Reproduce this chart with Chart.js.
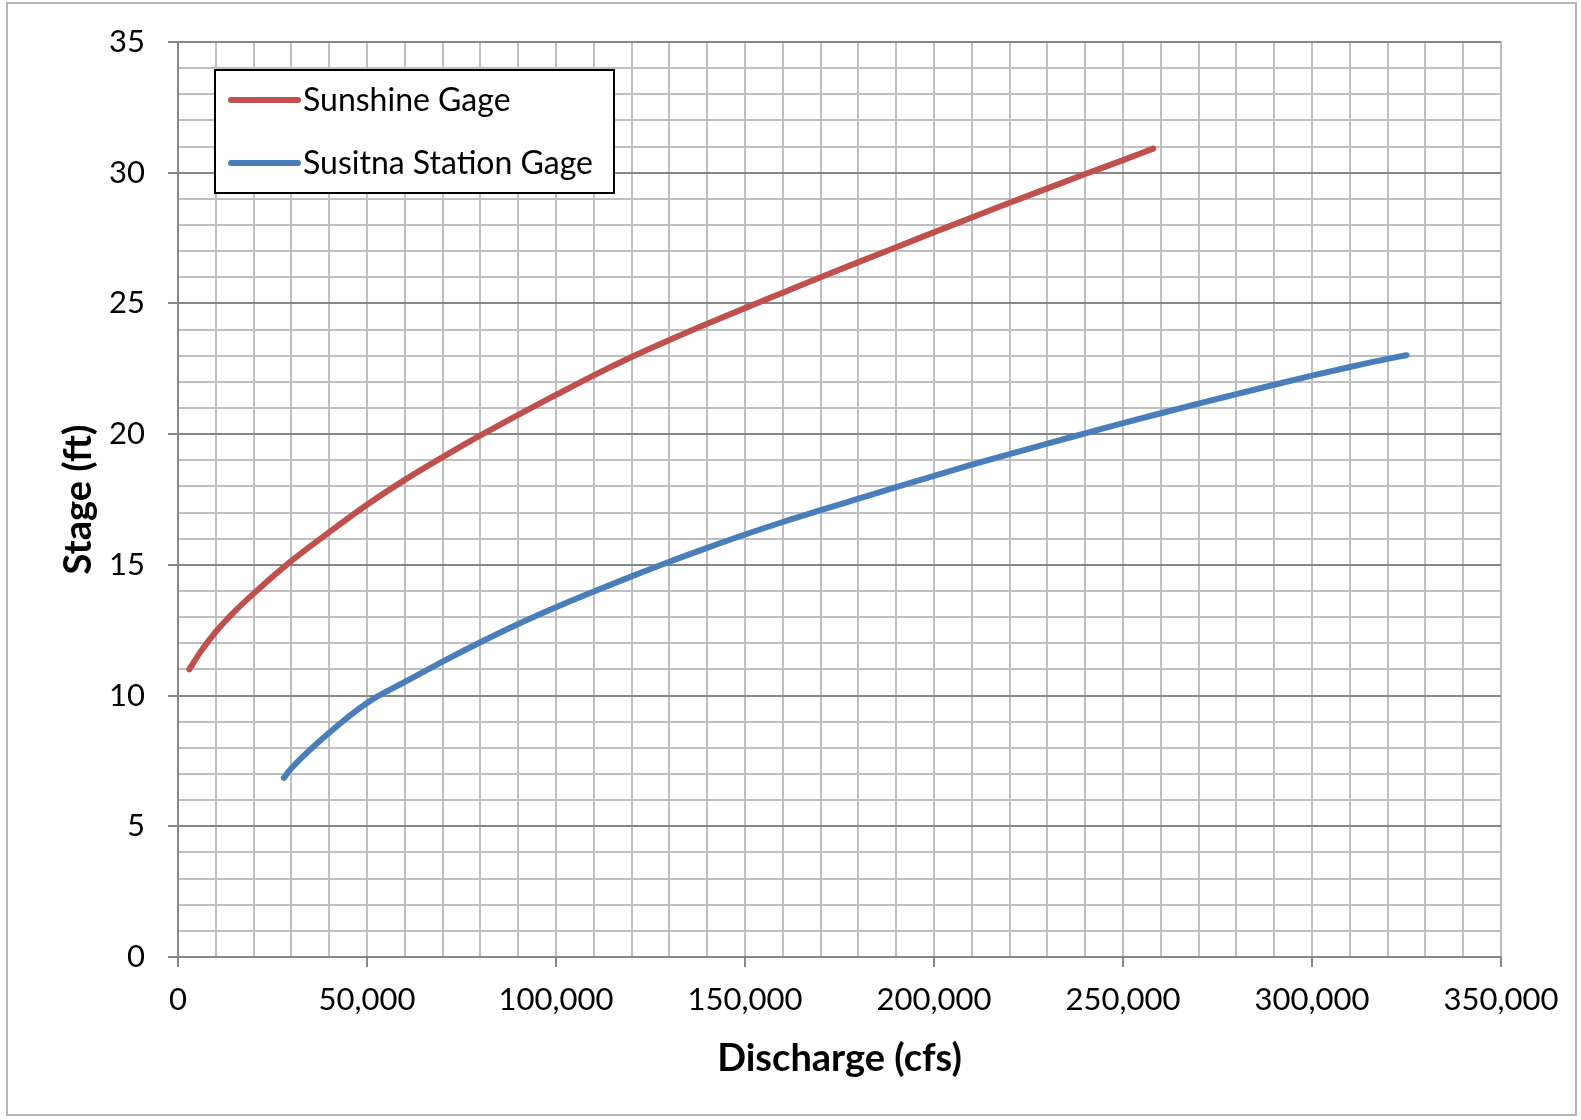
<!DOCTYPE html>
<html>
<head>
<meta charset="utf-8">
<script src="https://cdn.jsdelivr.net/npm/chart.js@4.4.1/dist/chart.umd.min.js"></script>
<style>
  html, body { margin: 0; padding: 0; background: #fff; }
  #wrap { position: relative; width: 1581px; height: 1120px; }
  #frame { position: absolute; left: 6px; top: 2px; width: 1571px; height: 1114px; border: 2px solid #b5b5b5; box-sizing: border-box; pointer-events: none; }
</style>
</head>
<body>
<div id="wrap">
  <canvas id="chart"></canvas>
  <div id="frame"></div>
</div>
<script>
// Sunshine Gage rating curve (discharge cfs, stage ft)
const sunshineQ = [3000, 6000, 10000, 15000, 20000, 30000, 40000, 50000, 60000, 70000, 80000, 90000, 100000,
    110000, 120000, 130000, 140000, 150000, 160000, 170000, 180000, 190000, 200000,
    210000, 220000, 230000, 240000, 250000, 258000];
const sunshineStage = [11.0, 11.68, 12.44, 13.22, 13.9, 15.15, 16.25, 17.3, 18.25, 19.12, 19.95, 20.74, 21.5,
    22.25, 22.95, 23.6, 24.22, 24.82, 25.41, 26.0, 26.58, 27.15, 27.72,
    28.29, 28.85, 29.4, 29.95, 30.48, 30.92];

// Susitna Station Gage rating curve
const susitnaQ = [28000, 30000, 40000, 50000, 60000, 70000, 80000, 90000, 100000, 110000, 120000,
    130000, 140000, 150000, 160000, 170000, 180000, 190000, 200000, 210000, 220000,
    230000, 240000, 250000, 260000, 270000, 280000, 290000, 300000, 310000, 320000, 325000];
const susitnaStage = [6.85, 7.22, 8.58, 9.72, 10.52, 11.3, 12.04, 12.74, 13.38, 13.98, 14.56,
    15.12, 15.65, 16.16, 16.64, 17.09, 17.53, 17.97, 18.4, 18.83, 19.24,
    19.64, 20.03, 20.42, 20.8, 21.17, 21.53, 21.89, 22.24, 22.57, 22.88, 23.02];

const seriesNames = ['Sunshine Gage', 'Susitna Station Gage'];
const xTitle = 'Discharge (cfs)';
const yTitle = 'Stage (ft)';

const FONT = 'Lato, "Open Sans", sans-serif';
const lightGrid = '#bfbfbf';
const darkGrid = '#878787';

const pts = (xs, ys) => xs.map((x, i) => ({ x: x, y: ys[i] }));

// legend box drawn inside the plot, like the original
const boxLegend = {
    id: 'boxLegend',
    afterDraw(chart) {
        const ctx = chart.ctx;
        const bx = 215, by = 70, bw = 399, bh = 123;
        ctx.save();
        ctx.fillStyle = '#fff';
        ctx.fillRect(bx, by, bw, bh);
        ctx.lineWidth = 2;
        ctx.strokeStyle = '#000';
        ctx.strokeRect(bx, by, bw, bh);
        chart.data.datasets.forEach((ds, i) => {
            const y = 100 + i * 63;
            ctx.beginPath();
            ctx.lineCap = 'round';
            ctx.lineWidth = 6;
            ctx.strokeStyle = ds.borderColor;
            ctx.moveTo(231, y);
            ctx.lineTo(298, y);
            ctx.stroke();
            ctx.fillStyle = '#000';
            ctx.font = '32px ' + FONT;
            ctx.textBaseline = 'middle';
            ctx.textAlign = 'left';
            ctx.fillText(ds.label, 303, y + 1);
        });
        ctx.restore();
    }
};

new Chart(document.getElementById('chart'), {
    type: 'line',
    data: {
        datasets: [{
            label: seriesNames[0],
            data: pts(sunshineQ, sunshineStage),
            borderColor: '#c0504d',
            borderWidth: 6,
            borderCapStyle: 'round',
            cubicInterpolationMode: 'monotone',
            pointRadius: 0,
            fill: false
        }, {
            label: seriesNames[1],
            data: pts(susitnaQ, susitnaStage),
            borderColor: '#4a7ebb',
            borderWidth: 6,
            borderCapStyle: 'round',
            cubicInterpolationMode: 'monotone',
            pointRadius: 0,
            fill: false
        }]
    },
    options: {
        responsive: true,
        maintainAspectRatio: false,
        animation: false,
        layout: { padding: { left: 0, top: 42, right: 80, bottom: 0 } },
        plugins: {
            legend: { display: false },
            tooltip: { enabled: false }
        },
        scales: {
            x: {
                type: 'linear',
                min: 0,
                max: 350000,
                afterFit: s => { s.height = 163; },
                border: { color: darkGrid, width: 2 },
                grid: {
                    color: lightGrid,
                    lineWidth: 2,
                    tickLength: 10,
                    tickWidth: 2,
                    tickColor: c => (c.tick && c.tick.value % 50000 === 0) ? darkGrid : 'rgba(0,0,0,0)'
                },
                ticks: {
                    stepSize: 10000,
                    autoSkip: false,
                    maxRotation: 0,
                    padding: 14,
                    color: '#000',
                    font: { family: FONT, size: 31 },
                    callback: v => v % 50000 === 0 ? v.toLocaleString('en-US') : ''
                },
                title: {
                    display: true,
                    text: xTitle,
                    color: '#000',
                    font: { family: FONT, size: 38, weight: 'bold' },
                    padding: { top: 0, bottom: 38 }
                }
            },
            y: {
                type: 'linear',
                min: 0,
                max: 35,
                afterFit: s => { s.width = 178; },
                border: { color: darkGrid, width: 2 },
                grid: {
                    color: c => (c.tick && c.tick.value % 5 === 0) ? darkGrid : lightGrid,
                    lineWidth: 2,
                    tickLength: 10,
                    tickWidth: 2,
                    tickColor: c => (c.tick && c.tick.value % 5 === 0) ? darkGrid : 'rgba(0,0,0,0)'
                },
                ticks: {
                    stepSize: 1,
                    autoSkip: false,
                    padding: 23,
                    color: '#000',
                    font: { family: FONT, size: 31 },
                    callback: v => v % 5 === 0 ? String(v) : ''
                },
                title: {
                    display: true,
                    text: yTitle,
                    color: '#000',
                    font: { family: FONT, size: 38, weight: 'bold' },
                    padding: { top: 56, bottom: 0 }
                }
            }
        }
    },
    plugins: [boxLegend]
});
</script>
</body>
</html>
